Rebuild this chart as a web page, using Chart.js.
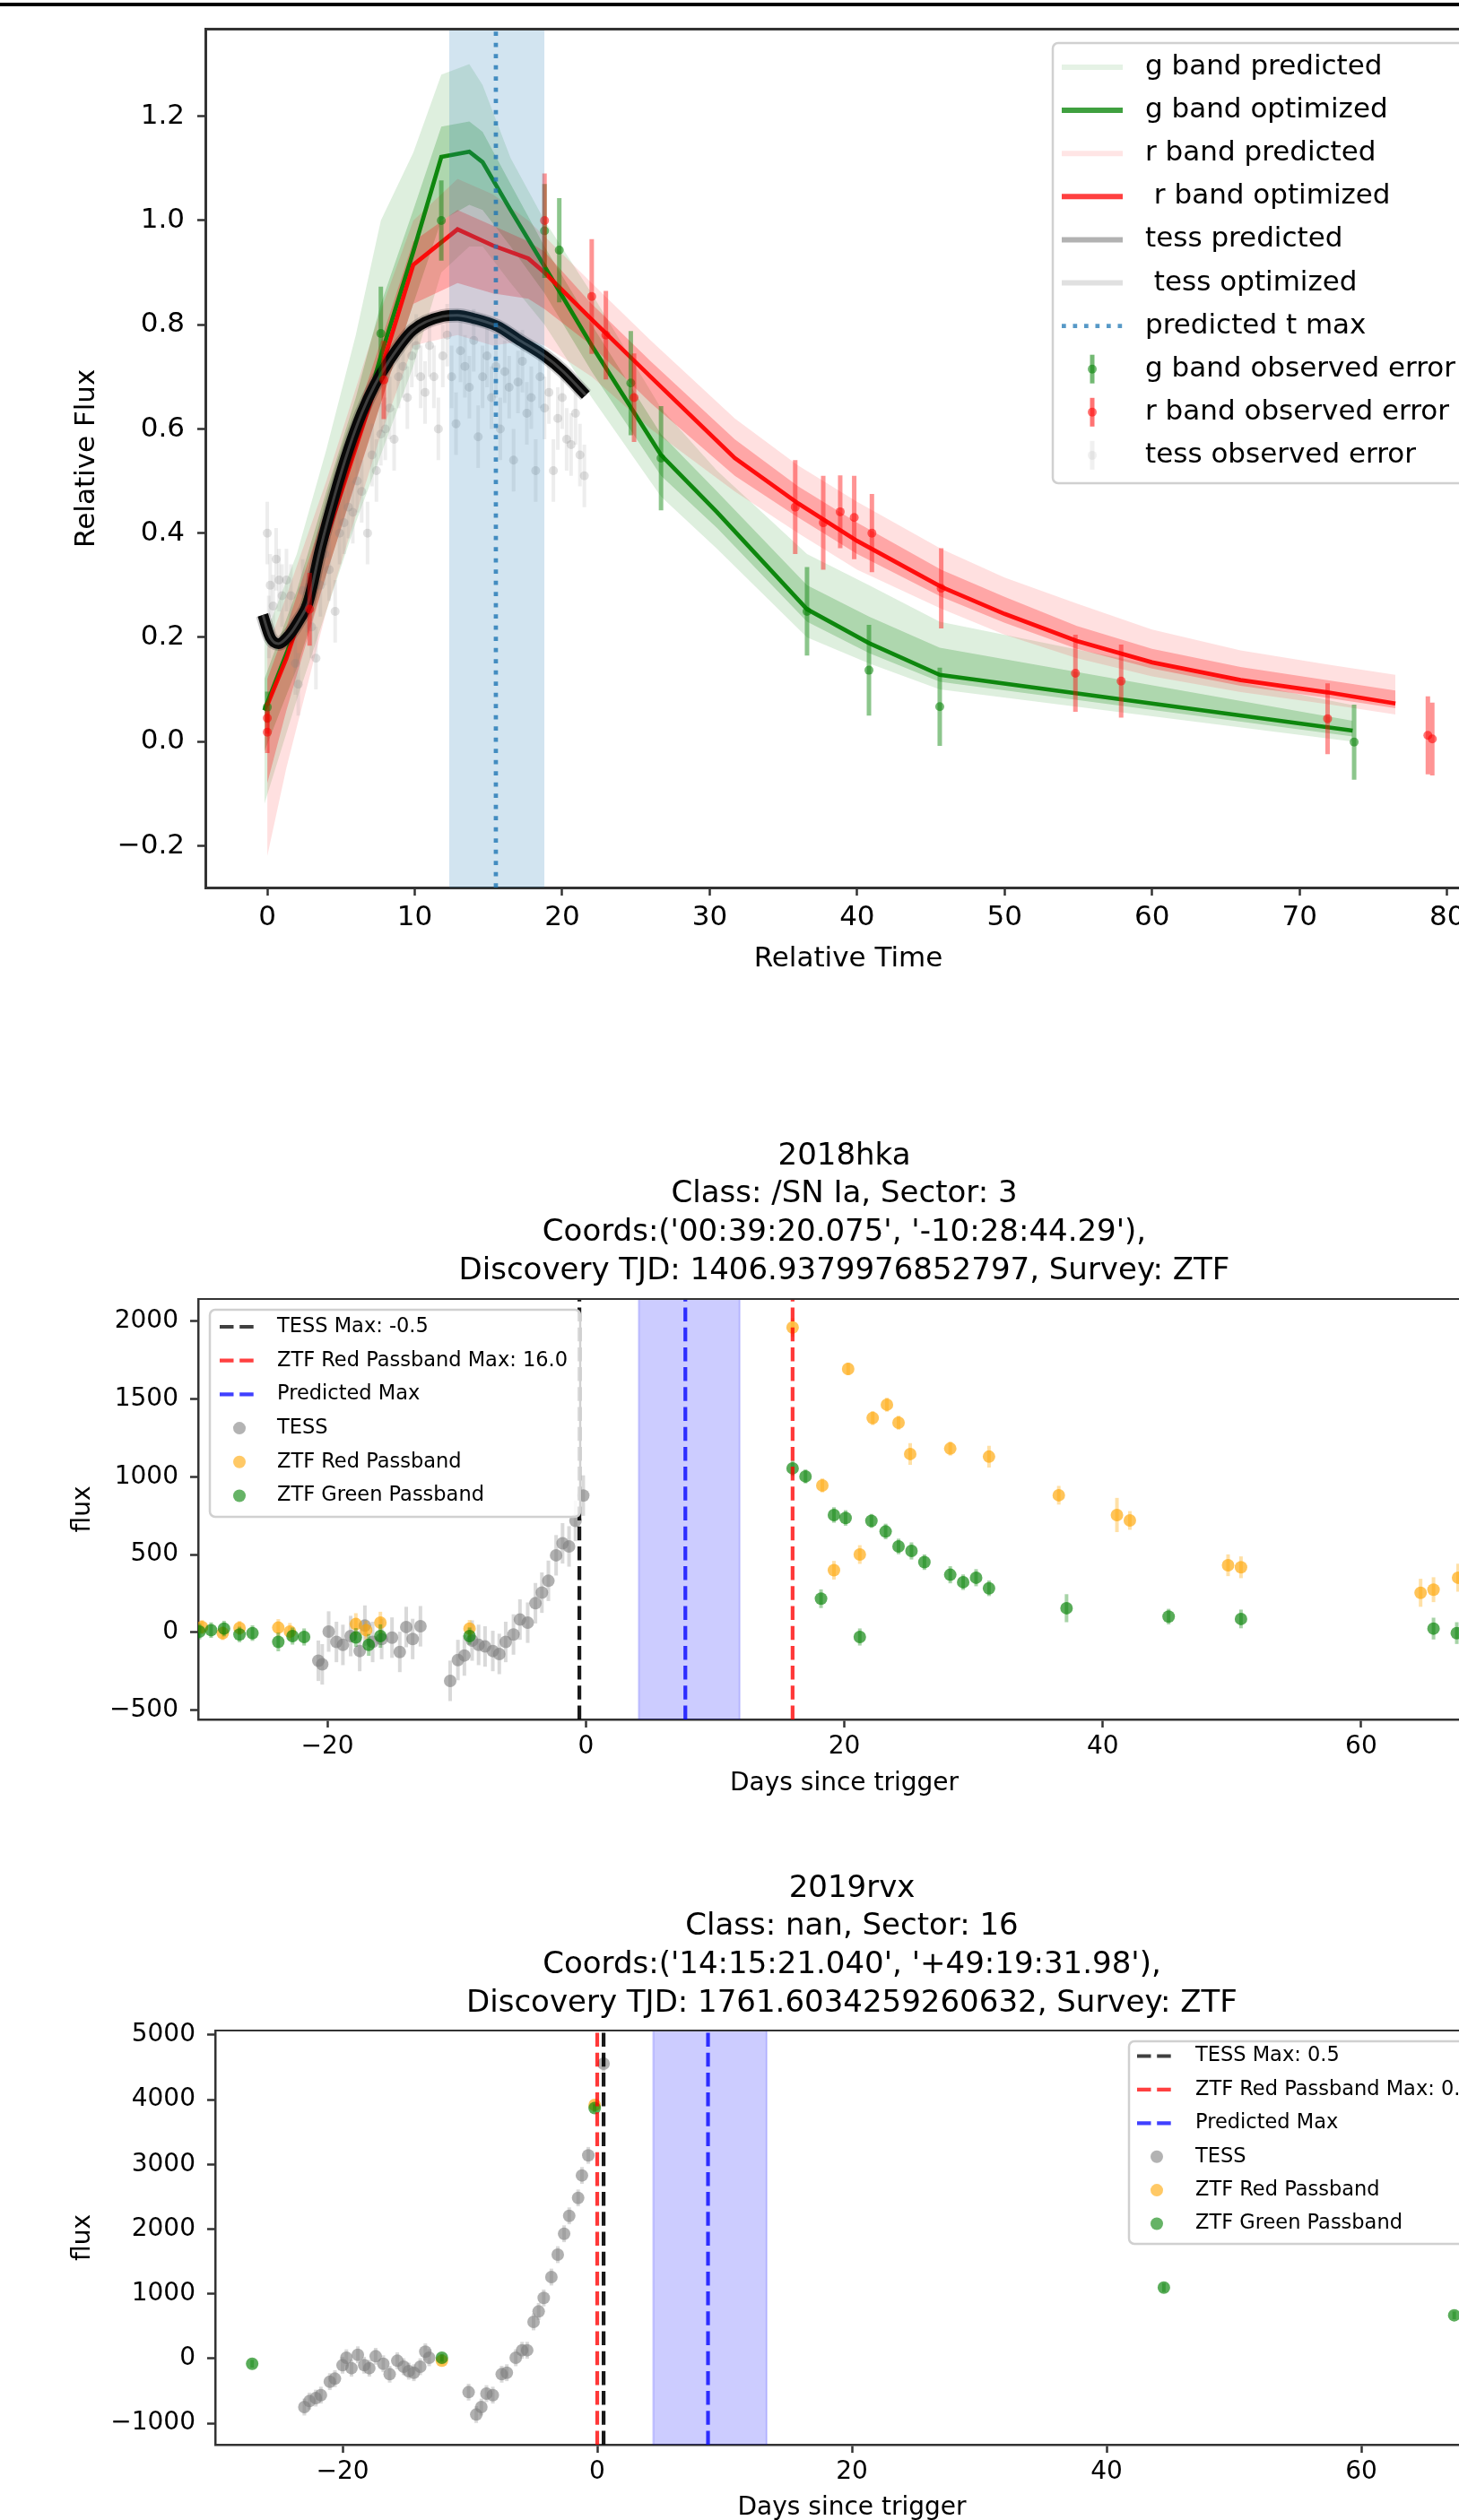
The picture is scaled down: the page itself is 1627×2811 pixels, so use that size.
<!DOCTYPE html>
<html>
<head>
<meta charset="utf-8">
<script src="https://cdn.jsdelivr.net/npm/chart.js@4.4.1/dist/chart.umd.min.js"></script>
<style>
  html, body { margin: 0; padding: 0; background: #fff; }
  body { width: 1627px; height: 2811px; overflow: hidden; position: relative; }
  .topbar { position: absolute; left: 0; top: 3px; width: 1627px; height: 4px; background: #000; }
  canvas { position: absolute; left: 0; }
</style>
</head>
<body>
<div class="topbar"></div>
<canvas id="fitChart" width="1700" height="1110" style="top:0px"></canvas>
<canvas id="hkaChart" width="1700" height="780" style="top:1230px"></canvas>
<canvas id="rvxChart" width="1700" height="800" style="top:2040px"></canvas>
<script>
/* =========================================
   DATA
   -----------------------------------------
   Panel 1 : fitted light curve (relative units)
   Panel 2 : 2018hka raw fluxes
   Panel 3 : 2019rvx raw fluxes
========================================= */

/* ---------- panel 1 : model curves ---------- */
const FIT_XTICKS = [0, 10, 20, 30, 40, 50, 60, 70, 80];
const FIT_YTICKS = [-0.2, 0.0, 0.2, 0.4, 0.6, 0.8, 1.0, 1.2];

const G_T   = [-0.2, 2, 4, 6, 7.7, 9.9, 11.8, 13.7, 14.6, 16.5, 18.8, 22, 26.7, 30.5, 36.6, 40.8, 45.6, 73.6];
const G_OPT = [0.06, 0.22, 0.40, 0.57, 0.74, 0.94, 1.122, 1.132, 1.112, 1.02, 0.912, 0.76, 0.55, 0.44, 0.254, 0.189, 0.128, 0.021];
const G_LO  = [-0.12, 0.08, 0.25, 0.42, 0.55, 0.72, 0.90, 0.95, 0.95, 0.88, 0.80, 0.66, 0.47, 0.37, 0.20, 0.15, 0.10, 0.0];
const G_HI  = [0.20, 0.36, 0.56, 0.78, 1.0, 1.13, 1.28, 1.30, 1.26, 1.12, 1.0, 0.86, 0.64, 0.52, 0.36, 0.30, 0.23, 0.07];
const G_LO2 = [-0.02, 0.14, 0.32, 0.50, 0.65, 0.84, 1.0, 1.03, 1.02, 0.95, 0.86, 0.71, 0.51, 0.41, 0.23, 0.17, 0.115, 0.01];
const G_HI2 = [0.12, 0.29, 0.48, 0.66, 0.84, 1.02, 1.18, 1.19, 1.17, 1.07, 0.95, 0.80, 0.59, 0.48, 0.30, 0.24, 0.18, 0.04];

const R_T   = [0, 1.3, 4, 7.6, 9.9, 12.9, 15.3, 17.7, 18.8, 22, 26, 31.7, 36, 40, 45.7, 50, 54.9, 60, 66, 71.9, 76.5];
const R_OPT = [0.07, 0.16, 0.39, 0.703, 0.915, 0.983, 0.952, 0.927, 0.90, 0.81, 0.70, 0.544, 0.457, 0.385, 0.297, 0.245, 0.193, 0.152, 0.118, 0.0945, 0.073];
const R_LO  = [-0.22, -0.05, 0.25, 0.58, 0.76, 0.78, 0.76, 0.77, 0.76, 0.70, 0.60, 0.48, 0.40, 0.33, 0.255, 0.205, 0.16, 0.125, 0.095, 0.072, 0.052];
const R_HI  = [0.18, 0.28, 0.50, 0.82, 1.0, 1.08, 1.05, 1.0, 0.97, 0.88, 0.77, 0.62, 0.53, 0.46, 0.37, 0.315, 0.265, 0.215, 0.175, 0.148, 0.128];
const R_LO2 = [-0.08, 0.06, 0.32, 0.64, 0.84, 0.88, 0.86, 0.85, 0.83, 0.76, 0.65, 0.51, 0.43, 0.36, 0.278, 0.228, 0.178, 0.14, 0.107, 0.084, 0.064];
const R_HI2 = [0.12, 0.22, 0.45, 0.76, 0.96, 1.02, 0.99, 0.96, 0.94, 0.84, 0.73, 0.58, 0.49, 0.42, 0.33, 0.278, 0.222, 0.178, 0.143, 0.118, 0.098];

const T_T   = [-0.3, 0.2, 0.75, 1.5, 2.2, 2.75, 3.6, 4.6, 5.5, 6.4, 7.3, 8.2, 9.85, 11.9, 12.9, 14, 15.6, 17, 18.8, 20, 21.6];
const T_OPT = [0.243, 0.2, 0.188, 0.205, 0.235, 0.265, 0.37, 0.476, 0.56, 0.63, 0.685, 0.728, 0.789, 0.816, 0.818, 0.812, 0.797, 0.772, 0.74, 0.712, 0.665];

/* ---------- panel 1 : observations ---------- */
const FIT_G_T = [0.0, 7.7, 11.8, 18.8, 19.8, 24.65, 26.7, 36.6, 40.8, 45.6, 73.7];
const FIT_G_F = [0.066, 0.783, 1.0, 0.98, 0.943, 0.688, 0.544, 0.25, 0.137, 0.067, -0.001];
const FIT_G_E = [0.03, 0.09, 0.077, 0.09, 0.1, 0.1, 0.1, 0.085, 0.087, 0.075, 0.072];

const FIT_R_T = [0.0, 0.0, 2.87, 7.9, 18.8, 22.0, 22.96, 24.87, 35.8, 37.7, 38.85, 39.8, 41.0, 45.7, 54.8, 57.9, 71.9, 78.7, 79.0];
const FIT_R_F = [0.045, 0.018, 0.254, 0.694, 1.0, 0.854, 0.78, 0.66, 0.45, 0.42, 0.441, 0.43, 0.40, 0.294, 0.131, 0.116, 0.044, 0.012, 0.005];
const FIT_R_E = [0.03, 0.04, 0.07, 0.075, 0.09, 0.11, 0.085, 0.085, 0.09, 0.09, 0.07, 0.08, 0.075, 0.077, 0.074, 0.07, 0.068, 0.075, 0.07];

const FIT_TESS_T = [0.0, 0.1, 0.2, 0.4, 0.6, 0.8, 1.0, 1.3, 1.6, 1.9,
                    2.1, 2.4, 2.7, 3.0, 3.3, 3.6, 3.9, 4.2, 4.6, 4.9,
                    5.2, 5.5, 5.8, 6.1, 6.4, 6.8, 7.1, 7.4, 7.7, 8.0,
                    8.3, 8.6, 8.9, 9.2, 9.5, 9.8, 10.1, 10.4, 10.7, 11.0,
                    11.3, 11.6, 11.9, 12.2, 12.5, 12.8, 13.1, 13.4, 13.7, 14.0,
                    14.3, 14.6, 14.9, 15.2, 15.5, 15.8, 16.1, 16.4, 16.7, 17.0,
                    17.3, 17.6, 17.9, 18.2, 18.5, 18.8, 19.1, 19.4, 19.7, 20.0,
                    20.3, 20.6, 20.9, 21.2, 21.5];
const FIT_TESS_F = [0.40, 0.22, 0.30, 0.26, 0.35, 0.31, 0.28, 0.31, 0.28, 0.15,
                    0.11, 0.29, 0.27, 0.22, 0.16, 0.30, 0.36, 0.33, 0.25, 0.40,
                    0.42, 0.45, 0.44, 0.50, 0.48, 0.40, 0.55, 0.52, 0.59, 0.60,
                    0.64, 0.58, 0.70, 0.72, 0.66, 0.74, 0.76, 0.70, 0.67, 0.76,
                    0.70, 0.60, 0.74, 0.78, 0.70, 0.61, 0.75, 0.72, 0.68, 0.77,
                    0.585, 0.70, 0.74, 0.66, 0.72, 0.60, 0.71, 0.68, 0.54, 0.69,
                    0.73, 0.63, 0.66, 0.52, 0.70, 0.64, 0.67, 0.52, 0.62, 0.66,
                    0.58, 0.57, 0.63, 0.55, 0.51];
const FIT_TESS_E = 0.06;

const FIT_SPAN = [12.34, 18.8];
const FIT_TMAX = 15.5;

const FIT_LEGEND = ['g band predicted', 'g band optimized', 'r band predicted', ' r band optimized',
                    'tess predicted', ' tess optimized', 'predicted t max',
                    'g band observed error', 'r band observed error', 'tess observed error'];

/* ---------- panel 2 : 2018hka ---------- */
const LC_XTICKS = [-20, 0, 20, 40, 60];
const HKA_YTICKS = [-500, 0, 500, 1000, 1500, 2000];
const HKA_TITLE = ['2018hka', 'Class: /SN Ia, Sector: 3',
                   "Coords:('00:39:20.075', '-10:28:44.29'),",
                   'Discovery TJD: 1406.9379976852797, Survey: ZTF'];

const HKA_TESS_T = [-20.7, -20.4, -19.9, -19.3, -18.8, -18.2, -17.5, -17.1, -16.5, -15.8, -15.0, -14.4,
                    -13.9, -13.4, -12.8, -10.5, -9.9, -9.4, -8.8, -8.3, -7.8, -7.2, -6.7, -6.2,
                    -5.6, -5.1, -4.5, -3.9, -3.4, -2.9, -2.3, -1.8, -1.3, -0.8, -0.2];
const HKA_TESS_F = [-182, -205, 6, -61, -80, -23, -119, 44, -61, -42, -33, -125,
                    35, -42, 40, -311, -177, -148, -52, -80, -90, -119, -138, -61,
                    -13, 83, 63, 188, 256, 332, 496, 573, 553, 717, 880];
const HKA_TESS_E = 130;

const HKA_RED_T = [-29.7, -28.1, -26.8, -23.8, -22.9, -17.8, -17.0, -15.9, -9.0, 16.0, 18.3, 19.2, 20.3, 21.2,
                   22.2, 23.3, 24.2, 25.1, 28.2, 31.2, 36.6, 41.1, 42.1, 49.7, 50.7, 64.6, 65.6, 67.5];
const HKA_RED_F = [35, -4, 29, 31, 6, 54, 15, 63, 25, 1960, 945, 400, 1694, 501,
                   1378, 1464, 1348, 1147, 1182, 1130, 882, 755, 720, 432, 419, 255, 275, 352];
const HKA_RED_E = [45, 45, 45, 55, 55, 70, 60, 70, 55, 60, 45, 60, 40, 60,
                   45, 45, 45, 70, 45, 70, 60, 110, 60, 70, 70, 90, 80, 90];

const HKA_GRN_T = [-29.9, -29.0, -28.0, -26.8, -25.8, -23.8, -22.7, -21.8, -17.8, -16.8, -15.9, -9.0, 16.0, 17.0,
                   18.2, 19.2, 20.1, 21.2, 22.1, 23.2, 24.2, 25.2, 26.2, 28.2, 29.2, 30.2, 31.2, 37.2, 45.1, 50.7, 65.6, 67.4];
const HKA_GRN_F = [6, 15, 25, -13, -4, -61, -23, -29, -32, -80, -23, -23, 1055, 1003,
                   217, 755, 736, -29, 717, 649, 553, 524, 452, 371, 323, 352, 284, 156, 102, 87, 25, -4];
const HKA_GRN_E = [50, 50, 50, 50, 50, 60, 55, 55, 60, 70, 75, 55, 50, 45,
                   60, 50, 50, 55, 45, 50, 50, 55, 50, 55, 50, 55, 50, 90, 50, 60, 70, 70];

const HKA_TESS_MAX = -0.5;
const HKA_RED_MAX = 16.0;
const HKA_PRED_MAX = 7.7;
const HKA_SPAN = [4.1, 11.9];
const HKA_LEGEND = ['TESS Max: -0.5', 'ZTF Red Passband Max: 16.0', 'Predicted Max',
                    'TESS', 'ZTF Red Passband', 'ZTF Green Passband'];

/* ---------- panel 3 : 2019rvx ---------- */
const RVX_YTICKS = [-1000, 0, 1000, 2000, 3000, 4000, 5000];
const RVX_TITLE = ['2019rvx', 'Class: nan, Sector: 16',
                   "Coords:('14:15:21.040', '+49:19:31.98'),",
                   'Discovery TJD: 1761.6034259260632, Survey: ZTF'];

const RVX_TESS_T = [-23.0, -22.6, -22.1, -21.7, -21.0, -20.6, -20.0, -19.7, -19.3, -18.8,
                    -18.3, -17.9, -17.4, -16.8, -16.3, -15.7, -15.2, -14.8, -14.4, -13.9,
                    -13.5, -13.2, -10.1, -9.5, -9.1, -8.7, -8.2, -7.5, -7.1, -6.4,
                    -5.9, -5.5, -5.0, -4.6, -4.2, -3.6, -3.1, -2.6, -2.2, -1.5,
                    -1.2, -0.7, 0.5];
const RVX_TESS_F = [-749, -656, -610, -564, -356, -310, -102, 13, -148, 59,
                    -102, -148, 36, -79, -241, -33, -125, -194, -218, -125,
                    106, 13, -518, -864, -749, -541, -564, -241, -218, 13,
                    129, 129, 567, 729, 937, 1260, 1606, 1929, 2206, 2483,
                    2830, 3140, 4557];
const RVX_TESS_E = 130;

const RVX_RED_T = [-12.2, -0.2];
const RVX_RED_F = [-33, 3920];
const RVX_RED_E = [60, 60];
const RVX_GRN_T = [-27.1, -12.2, -0.2, 44.5, 67.3];
const RVX_GRN_F = [-79, 13, 3870, 1098, 669];
const RVX_GRN_E = [60, 60, 60, 70, 60];

const RVX_TESS_MAX = 0.5;
const RVX_RED_MAX = 0.0;
const RVX_PRED_MAX = 8.7;
const RVX_SPAN = [4.4, 13.3];
const RVX_LEGEND = ['TESS Max: 0.5', 'ZTF Red Passband Max: 0.0', 'Predicted Max',
                    'TESS', 'ZTF Red Passband', 'ZTF Green Passband'];

/* =========================================
   HELPERS
========================================= */
const FONT = "'DejaVu Sans', sans-serif";
Chart.defaults.font.family = FONT;
Chart.defaults.color = '#000';

const pts = (xs, ys) => xs.map((x, i) => ({ x, y: ys[i] }));
const minus = s => String(s).replace('-', '\u2212');
const NONE = 'rgba(0,0,0,0)';

function curve(xs, ys, color, width, extra) {
    return Object.assign({ data: pts(xs, ys), borderColor: color, borderWidth: width,
                           pointRadius: 0, fill: false, tension: 0 }, extra || {});
}
function filled(xs, ys, color) {          // fills down to the dataset listed just before it
    return curve(xs, ys, NONE, 0, { fill: '-1', backgroundColor: color });
}
function markers(xs, ys, errs, color, errColor, r, errWidth) {
    return { data: pts(xs, ys), showLine: false, pointRadius: r, pointBackgroundColor: color,
             pointBorderWidth: 0, borderColor: color,
             errors: errs, errorColor: errColor, errorWidth: errWidth };
}
function vline(x, lo, hi, color, width, dash) {
    return curve([x, x], [lo, hi], color, width, { borderDash: dash || [] });
}
function span(x0, x1, top, color) {
    return curve([x0, x1], [top, top], NONE, 0, { fill: 'start', backgroundColor: color });
}
function stack(list) {                    // first listed = painted first (bottom)
    list.forEach((d, i) => { d.order = list.length - i; d.clip = 0; });
    return list;
}

function axis(o) {
    return {
        type: 'linear', min: o.min, max: o.max, z: 1,
        afterBuildTicks: s => { s.ticks = o.ticks.map(value => ({ value })); },
        afterFit: s => { if (o.width) s.width = o.width; if (o.height) s.height = o.height; },
        ticks: { autoSkip: false, maxRotation: 0, padding: o.pad, color: '#000',
                 font: { size: o.size }, callback: o.fmt },
        grid: { drawOnChartArea: false, drawTicks: true, tickLength: 9,
                tickWidth: 2.5, tickColor: '#333' },
        border: { display: true, color: '#333', width: o.spine },
        title: { display: true, text: o.title, color: '#000',
                 font: { size: o.size }, padding: o.titlePad }
    };
}

/* error bars are drawn just before the points of their dataset */
const errorBars = {
    id: 'errorBars',
    beforeDatasetDraw(chart, args) {
        const ds = chart.data.datasets[args.index];
        if (ds.errors == null) return;
        const { ctx, chartArea: a, scales: { x, y } } = chart;
        ctx.save();
        ctx.beginPath();
        ctx.rect(a.left, a.top, a.right - a.left, a.bottom - a.top);
        ctx.clip();
        ctx.strokeStyle = ds.errorColor;
        ctx.lineWidth = ds.errorWidth;
        ds.data.forEach((p, i) => {
            const e = Array.isArray(ds.errors) ? ds.errors[i] : ds.errors;
            const px = x.getPixelForValue(p.x);
            ctx.beginPath();
            ctx.moveTo(px, y.getPixelForValue(p.y - e));
            ctx.lineTo(px, y.getPixelForValue(p.y + e));
            ctx.stroke();
        });
        ctx.restore();
    }
};

/* top and right spines */
function frame(width) {
    return {
        id: 'frame',
        afterDatasetsDraw(chart) {
            const { ctx, chartArea: a } = chart;
            ctx.save();
            ctx.strokeStyle = '#333';
            ctx.lineWidth = width;
            ctx.beginPath();
            ctx.moveTo(a.left, a.top);
            ctx.lineTo(a.right, a.top);
            ctx.lineTo(a.right, a.bottom);
            ctx.stroke();
            ctx.restore();
        }
    };
}

/* matplotlib-like framed legend */
function boxLegend(box, labels, keys) {
    return {
        id: 'boxLegend',
        afterDraw(chart) {
            const ctx = chart.ctx;
            ctx.save();
            ctx.beginPath();
            if (ctx.roundRect) ctx.roundRect(box.left, box.top, box.right - box.left, box.bottom - box.top, 6);
            else ctx.rect(box.left, box.top, box.right - box.left, box.bottom - box.top);
            ctx.fillStyle = 'rgba(255,255,255,0.85)';
            ctx.fill();
            ctx.lineWidth = 2.5;
            ctx.strokeStyle = '#d0d0d0';
            ctx.stroke();

            ctx.font = box.font + 'px ' + FONT;
            ctx.textBaseline = 'middle';
            labels.forEach((label, i) => {
                const cy = box.row0 + i * box.step;
                const k = keys[i];
                const mx = (box.keyX0 + box.keyX1) / 2;
                ctx.save();
                if (k.kind === 'line') {
                    ctx.strokeStyle = k.color;
                    ctx.lineWidth = k.width;
                    ctx.setLineDash(k.dash || []);
                    ctx.beginPath();
                    ctx.moveTo(box.keyX0, cy);
                    ctx.lineTo(box.keyX1, cy);
                    ctx.stroke();
                } else {
                    if (k.kind === 'err') {
                        ctx.strokeStyle = k.color;
                        ctx.lineWidth = 5;
                        ctx.beginPath();
                        ctx.moveTo(mx, cy - 16);
                        ctx.lineTo(mx, cy + 16);
                        ctx.stroke();
                    }
                    ctx.fillStyle = k.color;
                    ctx.beginPath();
                    ctx.arc(mx, cy, k.r, 0, Math.PI * 2);
                    ctx.fill();
                }
                ctx.restore();
                ctx.fillStyle = '#000';
                ctx.fillText(label, box.textX, cy);
            });
            ctx.restore();
        }
    };
}

const baseOptions = (padding) => ({
    responsive: false, animation: false, events: [], devicePixelRatio: 1,
    layout: { padding },
    plugins: { legend: { display: false }, tooltip: { enabled: false }, title: { display: false } }
});

/* =========================================
   PANEL 1 : RELATIVE FLUX FIT
========================================= */
const FIT_Y = [-0.28, 1.367];
const fitOpts = baseOptions({ top: 32, right: 37, left: 0, bottom: 0 });
fitOpts.scales = {
    x: axis({ min: -4.2, max: 83.0, ticks: FIT_XTICKS, fmt: v => String(v), size: 31, pad: 6,
              title: 'Relative Time', titlePad: { bottom: 21 }, height: 120, spine: 3 }),
    y: axis({ min: FIT_Y[0], max: FIT_Y[1], ticks: FIT_YTICKS, fmt: v => minus(v.toFixed(1)), size: 31, pad: 14,
              title: 'Relative Flux', titlePad: { top: 78 }, width: 229, spine: 3 })
};
const smooth = { tension: 0.4, cubicInterpolationMode: 'monotone' };

new Chart(document.getElementById('fitChart'), {
    type: 'line',
    data: {
        datasets: stack([
            curve(G_T, G_LO, NONE, 0),
            filled(G_T, G_HI, 'rgba(0,128,0,0.13)'),
            curve(G_T, G_LO2, NONE, 0),
            filled(G_T, G_HI2, 'rgba(0,128,0,0.22)'),
            curve(R_T, R_LO, NONE, 0),
            filled(R_T, R_HI, 'rgba(255,0,0,0.12)'),
            curve(R_T, R_LO2, NONE, 0),
            filled(R_T, R_HI2, 'rgba(255,0,0,0.26)'),
            markers(FIT_TESS_T, FIT_TESS_F, FIT_TESS_E, 'rgba(128,128,128,0.24)', 'rgba(128,128,128,0.14)', 5, 4),
            curve(G_T, G_OPT, 'rgba(0,128,0,0.92)', 4.7),
            curve(R_T, R_OPT, 'rgba(255,0,0,0.92)', 4.7),
            curve(T_T, T_OPT, 'rgba(0,0,0,0.2)', 16, smooth),
            curve(T_T, T_OPT, '#080808', 12, smooth),
            curve(T_T, T_OPT, 'rgba(70,70,70,0.85)', 3, smooth),
            markers(FIT_G_T, FIT_G_F, FIT_G_E, 'rgba(0,128,0,0.55)', 'rgba(0,128,0,0.45)', 5, 5),
            markers(FIT_R_T, FIT_R_F, FIT_R_E, 'rgba(255,0,0,0.55)', 'rgba(255,0,0,0.42)', 5, 5),
            span(FIT_SPAN[0], FIT_SPAN[1], FIT_Y[1], 'rgba(31,119,180,0.2)'),
            vline(FIT_TMAX, FIT_Y[0], FIT_Y[1], 'rgba(31,119,180,0.8)', 4.7, [4.7, 7.8])
        ])
    },
    options: fitOpts,
    plugins: [errorBars, frame(3), boxLegend(
        { left: 1174, top: 48, right: 1656, bottom: 539, row0: 75, step: 48.1,
          keyX0: 1184, keyX1: 1252, textX: 1277, font: 31 },
        FIT_LEGEND,
        [
            { kind: 'line', color: 'rgba(0,128,0,0.1)', width: 6 },
            { kind: 'line', color: 'rgba(0,128,0,0.75)', width: 6 },
            { kind: 'line', color: 'rgba(255,0,0,0.1)', width: 6 },
            { kind: 'line', color: 'rgba(255,0,0,0.75)', width: 6 },
            { kind: 'line', color: 'rgba(0,0,0,0.3)', width: 6 },
            { kind: 'line', color: 'rgba(0,0,0,0.12)', width: 6 },
            { kind: 'line', color: 'rgba(31,119,180,0.75)', width: 4.7, dash: [4.7, 7.8] },
            { kind: 'err', color: 'rgba(0,128,0,0.55)', r: 5 },
            { kind: 'err', color: 'rgba(255,0,0,0.55)', r: 5 },
            { kind: 'err', color: 'rgba(128,128,128,0.12)', r: 5 }
        ])]
});

/* =========================================
   PANELS 2 & 3 : RAW LIGHT CURVES
========================================= */
const LC_KEYS = [
    { kind: 'line', color: 'rgba(0,0,0,0.75)', width: 4.2, dash: [15.5, 6.7] },
    { kind: 'line', color: 'rgba(255,0,0,0.75)', width: 4.2, dash: [15.5, 6.7] },
    { kind: 'line', color: 'rgba(0,0,255,0.75)', width: 4.2, dash: [15.5, 6.7] },
    { kind: 'dot', color: 'rgba(128,128,128,0.6)', r: 7 },
    { kind: 'dot', color: 'rgba(255,165,0,0.6)', r: 7 },
    { kind: 'dot', color: 'rgba(0,128,0,0.6)', r: 7 }
];

function lightCurve(id, c) {
    const opts = baseOptions({ top: 0, right: c.right, left: 0, bottom: 0 });
    opts.plugins.title = { display: true, text: c.title, fullSize: false, color: '#000',
                           font: { size: 34, weight: 'normal', lineHeight: 1.255 },
                           padding: { top: c.titleTop, bottom: c.titleBottom } };
    opts.scales = {
        x: axis({ min: -30, max: 70, ticks: LC_XTICKS, fmt: v => minus(v), size: 28, pad: 5,
                  title: 'Days since trigger', titlePad: { bottom: c.xTitlePad }, height: c.xHeight, spine: 2.5 }),
        y: axis({ min: c.y[0], max: c.y[1], ticks: c.yticks, fmt: v => minus(v), size: 28, pad: 13,
                  title: 'flux', titlePad: { top: 76 }, width: c.yWidth, spine: 2.5 })
    };
    const [lo, hi] = c.y;
    new Chart(document.getElementById(id), {
        type: 'line',
        data: {
            datasets: stack([
                markers(c.tess[0], c.tess[1], c.tess[2], 'rgba(128,128,128,0.62)', 'rgba(128,128,128,0.3)', 7, 4),
                markers(c.red[0], c.red[1], c.red[2], 'rgba(255,165,0,0.65)', 'rgba(255,165,0,0.35)', 7, 4),
                markers(c.grn[0], c.grn[1], c.grn[2], 'rgba(0,128,0,0.65)', 'rgba(0,128,0,0.35)', 7, 4),
                span(c.span[0], c.span[1], hi, 'rgba(0,0,255,0.2)'),
                vline(c.span[0], lo, hi, 'rgba(0,0,255,0.2)', 2),
                vline(c.span[1], lo, hi, 'rgba(0,0,255,0.2)', 2),
                vline(c.tessMax, lo, hi, 'rgba(0,0,0,0.9)', 4.2, [15.5, 6.7]),
                vline(c.redMax, lo, hi, 'rgba(255,0,0,0.78)', 4.2, [15.5, 6.7]),
                vline(c.predMax, lo, hi, 'rgba(0,0,255,0.78)', 4.2, [15.5, 6.7])
            ])
        },
        options: opts,
        plugins: [errorBars, frame(2), boxLegend(c.legendBox, c.legend, LC_KEYS)]
    });
}

lightCurve('hkaChart', {
    title: HKA_TITLE, titleTop: 38.6, titleBottom: 9.6,
    right: 38, xHeight: 92, xTitlePad: 3, yWidth: 221,
    y: [-559, 2144], yticks: HKA_YTICKS,
    tess: [HKA_TESS_T, HKA_TESS_F, HKA_TESS_E],
    red: [HKA_RED_T, HKA_RED_F, HKA_RED_E],
    grn: [HKA_GRN_T, HKA_GRN_F, HKA_GRN_E],
    span: HKA_SPAN, tessMax: HKA_TESS_MAX, redMax: HKA_RED_MAX, predMax: HKA_PRED_MAX,
    legend: HKA_LEGEND,
    legendBox: { left: 234, top: 231, right: 647, bottom: 462, row0: 250, step: 37.7,
                 keyX0: 245, keyX1: 289, textX: 309, font: 22.5 }
});

lightCurve('rvxChart', {
    title: RVX_TITLE, titleTop: 45.6, titleBottom: 8.7,
    right: 40, xHeight: 113, xTitlePad: 25, yWidth: 240,
    y: [-1330, 5069], yticks: RVX_YTICKS,
    tess: [RVX_TESS_T, RVX_TESS_F, RVX_TESS_E],
    red: [RVX_RED_T, RVX_RED_F, RVX_RED_E],
    grn: [RVX_GRN_T, RVX_GRN_F, RVX_GRN_E],
    span: RVX_SPAN, tessMax: RVX_TESS_MAX, redMax: RVX_RED_MAX, predMax: RVX_PRED_MAX,
    legend: RVX_LEGEND,
    legendBox: { left: 1259, top: 237, right: 1665, bottom: 463, row0: 253.5, step: 37.4,
                 keyX0: 1268, keyX1: 1312, textX: 1333, font: 22.5 }
});
</script>
</body>
</html>
